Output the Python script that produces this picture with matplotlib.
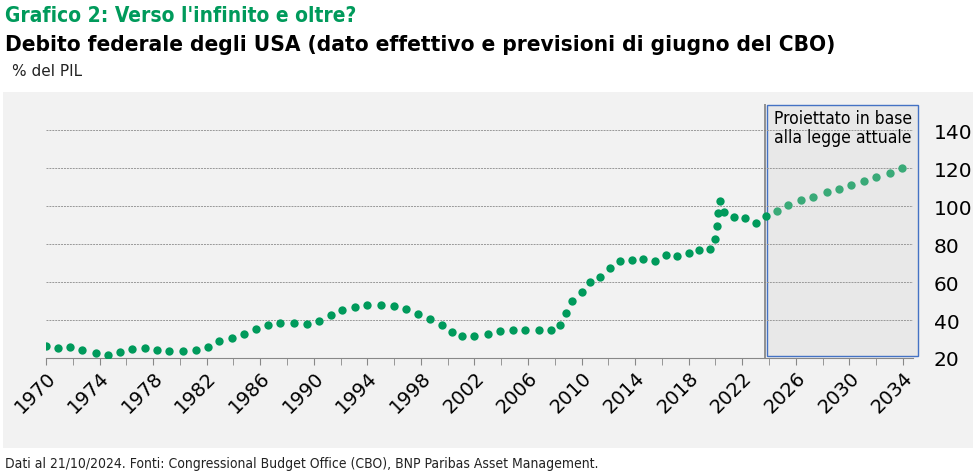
import matplotlib
matplotlib.use("Agg")
import matplotlib.pyplot as plt
from matplotlib.patches import Rectangle

# actual data (year, % of GDP)
hist_years = [1970.0, 1970.9, 1971.8, 1972.7, 1973.7, 1974.6, 1975.5, 1976.4, 1977.4, 1978.3,
              1979.2, 1980.2, 1981.2, 1982.1, 1982.9, 1983.9, 1984.8, 1985.7, 1986.6, 1987.5,
              1988.5, 1989.5, 1990.4, 1991.3, 1992.1, 1993.1, 1994.0, 1995.0, 1996.0, 1996.9,
              1997.8, 1998.7, 1999.6, 2000.3, 2001.1, 2002.0, 2003.0, 2003.9, 2004.9, 2005.8,
              2006.8, 2007.7, 2008.4, 2008.8, 2009.3, 2010.0, 2010.6, 2011.4, 2012.1, 2012.9,
              2013.8, 2014.6, 2015.5, 2016.3, 2017.1, 2018.0, 2018.8, 2019.6, 2020.0, 2020.1,
              2020.2, 2020.3, 2020.6, 2021.4, 2022.2, 2023.0, 2023.8]
hist_vals = [26.2, 25.4, 26.0, 24.4, 22.5, 21.4, 23.3, 24.9, 25.1, 24.4,
             23.7, 23.8, 24.0, 25.6, 28.8, 30.5, 32.6, 35.1, 37.4, 38.3,
             38.3, 37.7, 39.5, 42.5, 45.1, 46.8, 47.7, 47.7, 47.2, 45.6,
             43.3, 40.4, 37.2, 33.5, 31.4, 31.4, 32.5, 34.4, 34.7, 34.7,
             34.7, 34.5, 37.4, 43.7, 49.8, 54.7, 59.8, 62.8, 67.4, 71.1,
             71.7, 71.9, 71.2, 74.0, 73.8, 75.3, 76.7, 77.5, 82.6, 89.5,
             96.3, 102.5, 97.0, 94.0, 93.7, 91.0, 94.8]
# CBO projections
proj_years = [2024.6, 2025.4, 2026.4, 2027.3, 2028.3, 2029.2, 2030.1, 2031.1, 2032.0, 2033.0, 2033.9]
proj_vals = [97.4, 100.7, 103.0, 105.0, 107.2, 109.1, 111.2, 113.2, 115.1, 117.4, 120.0]

xticks = list(range(1970, 2035, 4))
yticks = [20, 40, 60, 80, 100, 120, 140]

GREEN = "#009a5b"
fig = plt.figure(figsize=(9.77, 4.77), dpi=100)
fig.patch.set_facecolor("white")
bg = fig.add_axes([3/977, 28/477, 970/977, 356/477], zorder=-1)
bg.set_facecolor("#f2f2f2")
bg.set_xticks([]); bg.set_yticks([])
for s in bg.spines.values():
    s.set_visible(False)

ax = fig.add_axes([46/977, 118/477, 867/977, 254/477])
ax.set_facecolor("none")
ax.set_xlim(1970, 2034.75)
ax.set_ylim(20, 153.7)

ax.add_patch(Rectangle((2023.85, 21), 2035.15 - 2023.85, 153.2 - 21, facecolor="#e8e8e8",
                       edgecolor="#4472c4", lw=1, zorder=1, clip_on=False))
ax.axvline(2023.7, color="#808080", lw=1.2, zorder=2)
ax.text(2029.5, 151, "Proiettato in base\nalla legge attuale", ha="center", va="top",
        fontsize=12.5, zorder=3, linespacing=1.05, fontstretch="condensed")

ax.plot(hist_years, hist_vals, "o", color=GREEN, ms=6, mec="none", zorder=4)
ax.plot(proj_years, proj_vals, "o", color="#3aaa78", ms=6, mec="none", zorder=4)

for y in yticks[1:]:
    ax.axhline(y, color="#999999", lw=0.7, ls=(0, (2, 1)), zorder=1)

for s in ["top", "right", "left"]:
    ax.spines[s].set_visible(False)
ax.spines["bottom"].set_color("#888888")
ax.set_xticks(xticks)
ax.set_xticks(range(1970, 2035, 2), minor=True)
ax.tick_params(axis="x", which="both", length=5, color="#888888", labelsize=14, pad=2)
ax.set_xticklabels([str(x) for x in xticks], rotation=45, ha="right", rotation_mode="anchor")
ax.yaxis.tick_right()
ax.set_yticks(yticks)
ax.tick_params(axis="y", length=0, labelsize=14.5, pad=15)

fig.text(5/977, 1 - 16/477, "Grafico 2: Verso l'infinito e oltre?", color=GREEN,
         fontsize=15, fontweight="bold", va="center", fontstretch="condensed")
fig.text(5/977, 1 - 45/477, "Debito federale degli USA (dato effettivo e previsioni di giugno del CBO)",
         color="black", fontsize=16.2, fontweight="bold", va="center", fontstretch="condensed")
fig.text(12/977, 1 - 72/477, "% del PIL", fontsize=11, va="center", color="#222222")
fig.text(5/977, 1 - 464/477,
         "Dati al 21/10/2024. Fonti: Congressional Budget Office (CBO), BNP Paribas Asset Management.",
         fontsize=10, va="center", color="#222222", fontstretch="condensed")

fig.savefig("out.png", dpi=100, facecolor="white")
